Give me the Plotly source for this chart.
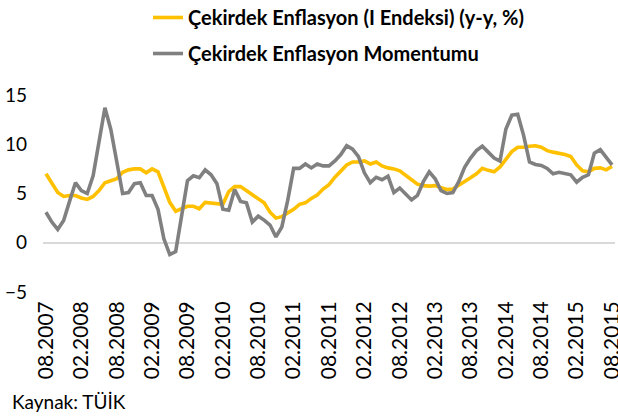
import pandas as pd
import plotly.graph_objects as go

# Monthly categories 08.2007 .. 08.2015
months = [d.strftime("%m.%Y") for d in pd.date_range("2007-08-01", "2015-08-01", freq="MS")]

core_inflation = [
    7.0, 6.1, 5.1, 4.7, 4.8, 4.8, 4.55, 4.4, 4.7, 5.3, 6.1, 6.3, 6.5, 7.15, 7.4, 7.5,
    7.5, 7.1, 7.5, 7.2, 5.6, 4.1, 3.2, 3.5, 3.7, 3.7, 3.45, 4.1, 4.05, 3.95, 3.9, 5.2,
    5.7, 5.7, 5.3, 4.8, 4.5, 4.05, 3.1, 2.5, 2.65, 3.0, 3.4, 3.9, 4.05, 4.5, 4.85, 5.45,
    5.9, 6.65, 7.3, 7.9, 8.2, 8.2, 8.3, 8.0, 8.2, 7.8, 7.6, 7.5, 7.3, 6.9, 6.4, 5.95,
    5.8, 5.75, 5.8, 5.6, 5.4, 5.45, 5.8, 6.2, 6.6, 7.0, 7.55, 7.35, 7.2, 7.7, 8.5, 9.25,
    9.7, 9.7, 9.8, 9.85, 9.7, 9.35, 9.2, 9.1, 8.95, 8.75, 7.9, 7.3, 7.2, 7.55, 7.6, 7.4,
    7.75,
]

core_momentum = [
    3.1, 2.1, 1.35, 2.26, 4.2, 6.1, 5.3, 5.0, 6.8, 10.5, 13.7, 11.5, 8.2, 5.0, 5.1, 6.0,
    6.1, 4.8, 4.8, 3.4, 0.4, -1.2, -0.9, 2.8, 6.3, 6.8, 6.6, 7.4, 6.9, 6.0, 3.4, 3.3,
    5.4, 4.2, 4.05, 2.1, 2.7, 2.3, 1.8, 0.6, 1.6, 4.3, 7.55, 7.55, 8.0, 7.6, 8.0, 7.8,
    7.8, 8.3, 8.95, 9.85, 9.5, 8.75, 7.1, 6.1, 6.65, 6.4, 6.75, 5.1, 5.55, 4.95, 4.35, 4.8,
    6.2, 7.2, 6.5, 5.3, 5.0, 5.1, 6.2, 7.65, 8.6, 9.35, 9.8, 9.2, 8.6, 8.3, 11.55, 12.95,
    13.05, 10.9, 8.2, 7.95, 7.85, 7.55, 7.0, 7.15, 7.0, 6.9, 6.15, 6.65, 6.9, 9.1, 9.45, 8.7,
    7.9,
]

tick_labels = ["08.2007", "02.2008", "08.2008", "02.2009", "08.2009", "02.2010",
               "08.2010", "02.2011", "08.2011", "02.2012", "08.2012", "02.2013",
               "08.2013", "02.2014", "08.2014", "02.2015", "08.2015"]
y_ticks = [-5, 0, 5, 10, 15]

series_names = ["Çekirdek Enflasyon (I Endeksi) (y-y, %)", "Çekirdek Enflasyon Momentumu"]
series_colors = ["#FFC000", "#808080"]
source_text = "Kaynak: TÜİK"

FONT = "Lato"
W, H = 618, 417
ML, MR, MT, MB = 43, 3, 95, 125
PW, PH = W - ML - MR, H - MT - MB

fig = go.Figure()
for name, vals, col, grp in zip(series_names, [core_inflation, core_momentum], series_colors, ["a", "b"]):
    fig.add_trace(go.Scatter(
        x=months, y=vals, mode="lines", name=name, legendgroup=grp,
        line=dict(color=col, width=3.6), hoverinfo="skip",
    ))

fig.update_layout(
    width=W, height=H,
    margin=dict(l=ML, r=MR, t=MT, b=MB, autoexpand=False),
    paper_bgcolor="white", plot_bgcolor="white",
    font=dict(family=FONT, size=20, color="black"),
    showlegend=True,
    legend=dict(
        x=(148 - ML) / PW, y=(H - MB + 2) / PH, xanchor="left", yanchor="top",
        font=dict(family=FONT, size=20, color="black", weight="bold"),
        tracegroupgap=7, itemwidth=30, bgcolor="rgba(0,0,0,0)",
    ),
    xaxis=dict(
        type="category", range=[-0.5, len(months) - 0.5],
        tickvals=tick_labels, ticktext=tick_labels,
        tickangle=-90, showgrid=False, showline=False, zeroline=False,
        ticks="", ticklabelstandoff=4,
        tickfont=dict(family=FONT, size=21, color="black"),
    ),
    yaxis=dict(
        range=[-5, 15], tickvals=y_ticks, showgrid=False, showline=False,
        zeroline=True, zerolinecolor="#D9D9D9", zerolinewidth=1.5,
        ticks="", ticklabelstandoff=15,
        tickfont=dict(family=FONT, size=19, color="black"),
    ),
    annotations=[dict(
        text=source_text, xref="paper", yref="paper",
        x=(10 - ML) / PW, y=(H - MB - 401) / PH, xanchor="left", yanchor="middle",
        showarrow=False, font=dict(family=FONT, size=19, color="black"),
    )],
)

fig.write_html("out.html", config={"displayModeBar": False},
               post_script="document.body.style.margin='0';")
